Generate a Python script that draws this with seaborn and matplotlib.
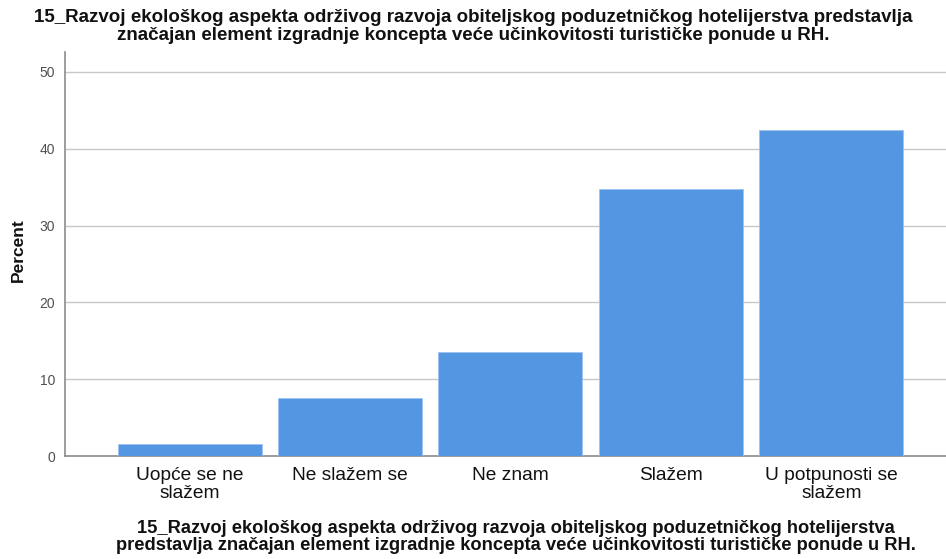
import matplotlib
matplotlib.use("Agg")
import matplotlib.pyplot as plt
import seaborn as sns
import pandas as pd

# Response categories and their percentages (N = 132)
categories = ["Uopće se ne\nslažem", "Ne slažem se", "Ne znam", "Slažem", "U potpunosti se\nslažem"]
percent = [1.5, 7.6, 13.6, 34.8, 42.4]
y_ticks = [0, 10, 20, 30, 40, 50]

title_text = ("15_Razvoj ekološkog aspekta održivog razvoja obiteljskog poduzetničkog hotelijerstva predstavlja\n"
              "značajan element izgradnje koncepta veće učinkovitosti turističke ponude u RH.")
xlabel_text = ("15_Razvoj ekološkog aspekta održivog razvoja obiteljskog poduzetničkog hotelijerstva\n"
               "predstavlja značajan element izgradnje koncepta veće učinkovitosti turističke ponude u RH.")

sns.set_theme(style="white")
plt.rcParams["font.family"] = ["Liberation Sans", "DejaVu Sans"]

df = pd.DataFrame({"category": categories, "percent": percent})

fig = plt.figure(figsize=(9.46, 5.59), dpi=100)
ax = fig.add_axes([65 / 946, 1 - 456 / 559, (946 - 65) / 946, (456 - 52) / 559])

sns.barplot(data=df, x="category", y="percent", color="#5596e3", saturation=1,
            width=0.898, edgecolor="#9cc2f0", linewidth=0.6, ax=ax, zorder=3)

ax.set_xlim(-0.777, 4.715)
ax.set_ylim(0, 52.6)
ax.set_yticks(y_ticks)
ax.yaxis.grid(True, color="#c8c8c8", linewidth=1.0, zorder=0)
ax.set_axisbelow(True)

for side in ["top", "right"]:
    ax.spines[side].set_visible(False)
for side in ["left", "bottom"]:
    ax.spines[side].set_color("#8c8c8c")
    ax.spines[side].set_linewidth(1.2)

ax.tick_params(axis="y", labelsize=10, labelcolor="#505050", length=0, pad=7)
ax.tick_params(axis="x", labelsize=13.8, labelcolor="#111111", length=0, pad=8)
for lbl in ax.get_xticklabels():
    lbl.set_linespacing(1.05)

ax.set_ylabel("Percent", fontsize=12.5, fontweight="bold", color="#111111", va="center")
ax.yaxis.set_label_coords(-(65 - 18) / 881, (456 - 250) / 404)

ax.set_xlabel(xlabel_text, fontsize=13.2, fontweight="bold", linespacing=1.05,
              color="#111111", va="center")
ax.xaxis.set_label_coords((516 - 65) / 881, -(537 - 456) / 404)

fig.text(0.5, 1 - 26.5 / 559, title_text, ha="center", va="center", fontsize=13.5,
         fontweight="bold", linespacing=1.05, color="#111111")

fig.savefig("out.png", dpi=100)
